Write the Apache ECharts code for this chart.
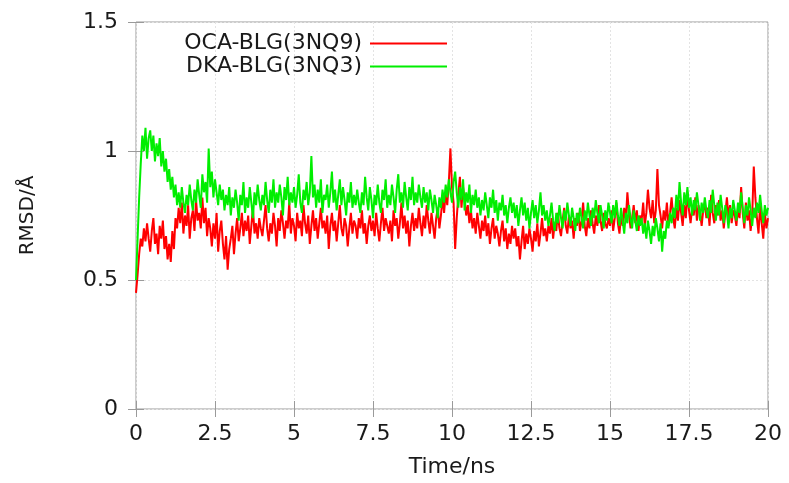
<!DOCTYPE html>
<html>
<head>
<meta charset="utf-8">
<script src="https://cdn.jsdelivr.net/npm/echarts@6/dist/echarts.min.js"></script>
<style>
  html, body { margin: 0; padding: 0; background: #fff; }
  #chart { width: 789px; height: 483px; }
</style>
</head>
<body>
<div id="chart"></div>
<script>
// RMSD traces, sampled every 0.05 ns (one row = 1 ns)
const timeStep = 0.05;
const seriesNames = ['OCA-BLG(3NQ9)', 'DKA-BLG(3NQ3)'];
const xTicks = [0, 2.5, 5, 7.5, 10, 12.5, 15, 17.5, 20];
const yTicks = [0, 0.5, 1, 1.5];

const ocaRmsd = [
  0.45,0.52,0.60,0.66,0.63,0.70,0.65,0.72,0.66,0.61,0.69,0.74,0.64,0.68,0.60,0.71,0.66,0.73,0.62,0.67,
  0.58,0.64,0.57,0.69,0.62,0.74,0.70,0.78,0.72,0.80,0.68,0.75,0.71,0.79,0.66,0.74,0.77,0.69,0.81,0.73,
  0.76,0.70,0.82,0.72,0.78,0.67,0.74,0.70,0.63,0.72,0.66,0.76,0.61,0.69,0.73,0.64,0.58,0.67,0.54,0.62,
  0.66,0.71,0.60,0.68,0.74,0.65,0.70,0.76,0.67,0.73,0.69,0.75,0.64,0.71,0.78,0.68,0.72,0.66,0.74,0.70,
  0.67,0.73,0.79,0.70,0.65,0.72,0.68,0.76,0.71,0.63,0.74,0.69,0.77,0.72,0.66,0.73,0.70,0.80,0.68,0.74,
  0.71,0.65,0.76,0.70,0.73,0.67,0.79,0.72,0.68,0.75,0.64,0.71,0.77,0.69,0.74,0.66,0.72,0.78,0.70,0.73,
  0.68,0.75,0.62,0.71,0.76,0.69,0.73,0.65,0.72,0.79,0.70,0.67,0.74,0.71,0.63,0.70,0.76,0.68,0.73,0.71,
  0.66,0.74,0.70,0.77,0.68,0.72,0.64,0.71,0.75,0.69,0.73,0.67,0.76,0.70,0.65,0.72,0.78,0.69,0.74,0.71,
  0.68,0.73,0.65,0.77,0.71,0.74,0.66,0.72,0.80,0.70,0.75,0.68,0.73,0.63,0.71,0.76,0.69,0.74,0.70,0.78,
  0.72,0.67,0.75,0.70,0.79,0.73,0.68,0.76,0.71,0.66,0.74,0.78,0.70,0.75,0.82,0.76,0.84,0.79,0.88,1.01,
  0.86,0.80,0.62,0.74,0.83,0.90,0.78,0.86,0.81,0.75,0.79,0.72,0.77,0.70,0.74,0.68,0.76,0.71,0.66,0.73,
  0.69,0.75,0.67,0.72,0.64,0.70,0.74,0.66,0.71,0.68,0.63,0.69,0.73,0.65,0.70,0.62,0.68,0.64,0.71,0.66,
  0.70,0.63,0.67,0.58,0.65,0.71,0.62,0.68,0.64,0.70,0.66,0.61,0.69,0.65,0.72,0.63,0.68,0.74,0.67,0.70,
  0.65,0.71,0.68,0.74,0.66,0.72,0.69,0.76,0.70,0.67,0.73,0.78,0.71,0.68,0.75,0.70,0.73,0.66,0.74,0.71,
  0.76,0.69,0.73,0.80,0.71,0.67,0.74,0.70,0.77,0.72,0.68,0.75,0.71,0.79,0.73,0.69,0.76,0.72,0.70,0.74,
  0.71,0.77,0.69,0.74,0.80,0.72,0.68,0.75,0.71,0.78,0.73,0.84,0.76,0.70,0.74,0.79,0.72,0.77,0.69,0.75,
  0.73,0.80,0.71,0.76,0.85,0.78,0.74,0.81,0.72,0.77,0.93,0.79,0.75,0.70,0.77,0.73,0.80,0.71,0.76,0.82,
  0.74,0.70,0.78,0.73,0.81,0.76,0.71,0.79,0.74,0.84,0.77,0.72,0.78,0.75,0.82,0.73,0.79,0.76,0.71,0.77,
  0.80,0.74,0.78,0.71,0.83,0.76,0.72,0.79,0.75,0.81,0.73,0.77,0.70,0.76,0.82,0.74,0.79,0.72,0.77,0.75,
  0.71,0.78,0.74,0.86,0.76,0.70,0.80,0.73,0.77,0.69,0.75,0.94,0.82,0.74,0.68,0.79,0.72,0.66,0.76,0.70,
  0.74
];

const dkaRmsd = [
  0.50,0.66,0.82,0.95,1.06,1.00,1.09,0.97,1.05,1.08,1.00,1.06,0.96,1.03,0.98,1.05,0.94,1.00,0.92,0.97,
  0.88,0.93,0.85,0.90,0.82,0.87,0.79,0.84,0.78,0.86,0.80,0.76,0.83,0.79,0.87,0.81,0.77,0.85,0.80,0.89,
  0.83,0.78,0.91,0.84,0.88,0.80,1.01,0.86,0.92,0.82,0.89,0.84,0.79,0.87,0.81,0.85,0.77,0.83,0.79,0.86,
  0.75,0.82,0.78,0.85,0.80,0.73,0.83,0.79,0.88,0.76,0.82,0.78,0.86,0.80,0.74,0.84,0.79,0.87,0.81,0.77,
  0.83,0.79,0.88,0.81,0.76,0.85,0.80,0.89,0.78,0.84,0.80,0.87,0.82,0.75,0.86,0.81,0.90,0.79,0.84,0.80,
  0.86,0.78,0.83,0.91,0.80,0.76,0.85,0.81,0.88,0.79,0.84,0.98,0.82,0.87,0.78,0.85,0.80,0.89,0.76,0.83,
  0.81,0.87,0.78,0.84,0.92,0.80,0.85,0.77,0.83,0.89,0.79,0.86,0.81,0.75,0.84,0.80,0.88,0.78,0.83,0.79,
  0.85,0.80,0.76,0.84,0.79,0.90,0.82,0.77,0.86,0.81,0.74,0.83,0.79,0.87,0.80,0.76,0.85,0.81,0.89,0.78,
  0.83,0.79,0.87,0.82,0.76,0.85,0.91,0.80,0.84,0.78,0.88,0.82,0.77,0.86,0.81,0.90,0.79,0.84,0.80,0.87,
  0.82,0.78,0.86,0.80,0.84,0.77,0.85,0.81,0.76,0.83,0.79,0.74,0.82,0.78,0.85,0.80,0.87,0.82,0.89,0.84,
  0.80,0.88,0.92,0.84,0.78,0.86,0.81,0.89,0.77,0.84,0.80,0.87,0.76,0.83,0.79,0.85,0.78,0.82,0.75,0.81,
  0.77,0.84,0.79,0.74,0.82,0.78,0.85,0.76,0.81,0.73,0.80,0.77,0.83,0.75,0.79,0.72,0.78,0.82,0.76,0.80,
  0.74,0.79,0.71,0.77,0.82,0.75,0.80,0.73,0.78,0.70,0.76,0.81,0.74,0.79,0.72,0.77,0.84,0.75,0.79,0.73,
  0.77,0.71,0.75,0.80,0.73,0.69,0.76,0.72,0.79,0.74,0.70,0.77,0.73,0.80,0.75,0.71,0.78,0.74,0.69,0.76,
  0.72,0.78,0.74,0.70,0.77,0.73,0.80,0.75,0.71,0.78,0.74,0.81,0.76,0.72,0.79,0.75,0.70,0.77,0.73,0.80,
  0.76,0.72,0.79,0.74,0.81,0.75,0.71,0.78,0.73,0.68,0.76,0.72,0.79,0.74,0.70,0.77,0.73,0.69,0.75,0.71,
  0.74,0.68,0.72,0.66,0.73,0.69,0.64,0.71,0.67,0.74,0.70,0.65,0.72,0.61,0.69,0.66,0.73,0.70,0.76,0.72,
  0.78,0.74,0.83,0.77,0.88,0.80,0.75,0.84,0.79,0.86,0.78,0.82,0.75,0.81,0.77,0.84,0.79,0.73,0.80,0.76,
  0.82,0.77,0.74,0.81,0.76,0.85,0.79,0.73,0.80,0.75,0.83,0.78,0.72,0.79,0.76,0.70,0.78,0.74,0.81,0.77,
  0.73,0.80,0.76,0.84,0.78,0.72,0.79,0.75,0.82,0.77,0.71,0.78,0.74,0.80,0.76,0.83,0.77,0.72,0.79,0.75,
  0.78
];

const toPairs = (vals) => vals.map((v, i) => [+(i * timeStep).toFixed(2), v]);

const FONT = 'DejaVu Sans';
const TEXT = '#1a1a1a';
const FRAME = '#9a9a9a';

const chart = echarts.init(document.getElementById('chart'), null, { renderer: 'canvas' });

const mirrorTick = { show: true, inside: true, length: 8, lineStyle: { color: FRAME } };
const grid = { left: 136, right: 21, top: 22, bottom: 72, show: true, borderColor: FRAME, borderWidth: 1, backgroundColor: 'transparent' };

chart.setOption({
  animation: false,
  backgroundColor: '#fff',
  grid,
  legend: {
    data: seriesNames,
    orient: 'vertical',
    align: 'right',
    right: 337,
    top: 27,
    icon: 'rect',
    itemWidth: 77,
    itemHeight: 2,
    itemGap: 0,
    textStyle: { fontFamily: FONT, fontSize: 22, color: TEXT, lineHeight: 23, padding: [0, 3, 0, 0] }
  },
  xAxis: [{
    type: 'value',
    min: xTicks[0],
    max: xTicks[xTicks.length - 1],
    interval: 2.5,
    name: 'Time/ns',
    nameLocation: 'middle',
    nameGap: 47,
    nameTextStyle: { fontFamily: FONT, fontSize: 22, color: TEXT },
    axisLine: { show: false },
    axisTick: mirrorTick,
    axisLabel: { fontFamily: FONT, fontSize: 22, color: TEXT, margin: 14 },
    splitLine: { show: true, lineStyle: { color: '#e3e3e3', type: [2, 2] } }
  }, {
    type: 'value',
    position: 'top',
    min: xTicks[0],
    max: xTicks[xTicks.length - 1],
    interval: 2.5,
    axisLine: { show: false },
    axisTick: mirrorTick,
    axisLabel: { show: false },
    splitLine: { show: false }
  }],
  yAxis: [{
    type: 'value',
    min: yTicks[0],
    max: yTicks[yTicks.length - 1],
    interval: 0.5,
    name: 'RMSD/Å',
    nameLocation: 'middle',
    nameGap: 98,
    nameTextStyle: { fontFamily: FONT, fontSize: 20, color: TEXT },
    axisLine: { show: false },
    axisTick: mirrorTick,
    axisLabel: { fontFamily: FONT, fontSize: 22, color: TEXT, margin: 18 },
    splitLine: { show: true, lineStyle: { color: '#e3e3e3', type: [2, 2] } }
  }, {
    type: 'value',
    position: 'right',
    min: yTicks[0],
    max: yTicks[yTicks.length - 1],
    interval: 0.5,
    axisLine: { show: false },
    axisTick: mirrorTick,
    axisLabel: { show: false },
    splitLine: { show: false }
  }],
  series: [{
    name: seriesNames[0],
    type: 'line',
    data: toPairs(ocaRmsd),
    showSymbol: false,
    symbol: 'none',
    color: '#ff0000',
    lineStyle: { width: 2, color: '#ff0000' },
    z: 2
  }, {
    name: seriesNames[1],
    type: 'line',
    data: toPairs(dkaRmsd),
    showSymbol: false,
    symbol: 'none',
    color: '#00ee00',
    lineStyle: { width: 2, color: '#00ee00' },
    z: 3
  }]
});
</script>
</body>
</html>
